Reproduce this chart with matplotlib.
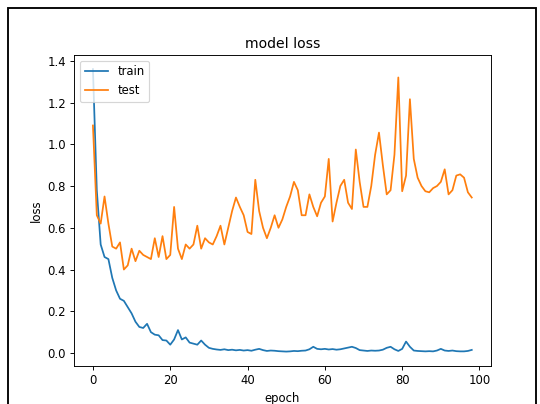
import matplotlib
matplotlib.use('Agg')
import matplotlib.pyplot as plt
from matplotlib.patches import Rectangle

# loss history (epochs 0..98)
train_loss = [1.36, 0.78, 0.52, 0.46, 0.45, 0.36, 0.30, 0.26, 0.25, 0.22,
              0.19, 0.15, 0.125, 0.12, 0.14, 0.10, 0.088, 0.085, 0.062, 0.06,
              0.04, 0.065, 0.11, 0.065, 0.075, 0.05, 0.045, 0.04, 0.06, 0.04,
              0.025, 0.02, 0.017, 0.015, 0.018, 0.014, 0.016, 0.013, 0.015, 0.012,
              0.014, 0.011, 0.016, 0.02, 0.014, 0.01, 0.012, 0.011, 0.009, 0.008,
              0.007, 0.008, 0.01, 0.009, 0.011, 0.012, 0.018, 0.03, 0.02, 0.018,
              0.02, 0.017, 0.019, 0.016, 0.018, 0.022, 0.026, 0.03, 0.024, 0.014,
              0.012, 0.01, 0.012, 0.011, 0.012, 0.016, 0.025, 0.03, 0.018, 0.01,
              0.02, 0.055, 0.03, 0.012, 0.01, 0.009, 0.008, 0.009, 0.008, 0.012,
              0.02, 0.012, 0.01, 0.012, 0.009, 0.008, 0.008, 0.01, 0.015]
test_loss = [1.09, 0.66, 0.62, 0.75, 0.62, 0.51, 0.50, 0.53, 0.40, 0.42,
             0.50, 0.44, 0.49, 0.47, 0.46, 0.45, 0.55, 0.46, 0.56, 0.45,
             0.47, 0.70, 0.50, 0.45, 0.52, 0.50, 0.52, 0.61, 0.50, 0.55,
             0.53, 0.52, 0.56, 0.61, 0.52, 0.60, 0.68, 0.745, 0.70, 0.66,
             0.58, 0.57, 0.83, 0.68, 0.60, 0.55, 0.60, 0.66, 0.60, 0.64,
             0.70, 0.75, 0.82, 0.78, 0.66, 0.66, 0.76, 0.70, 0.655, 0.72,
             0.75, 0.93, 0.63, 0.72, 0.80, 0.83, 0.72, 0.69, 0.975, 0.82,
             0.70, 0.70, 0.80, 0.95, 1.056, 0.90, 0.76, 0.78, 0.95, 1.32,
             0.775, 0.85, 1.216, 0.93, 0.84, 0.80, 0.775, 0.77, 0.79, 0.80,
             0.82, 0.88, 0.76, 0.78, 0.85, 0.856, 0.84, 0.77, 0.745]

W, H = 540, 404
fig = plt.figure(figsize=(W / 84, H / 84), dpi=84)

# black frame of the screenshot (bottom edge falls outside the crop)
fig.patches.append(Rectangle((8 / W, -0.1), (536 - 8) / W, 0.1 + (H - 8) / H,
                             transform=fig.transFigure, fill=False,
                             edgecolor='black', linewidth=1.6))

ax = fig.add_axes([74 / W, (H - 365.7) / H, 416.7 / W, 310.7 / H])
ax.plot(train_loss)
ax.plot(test_loss)
ax.set_title('model loss')
ax.set_ylabel('loss')
ax.set_xlabel('epoch')
ax.legend(['train', 'test'], loc='upper left')

fig.savefig('out.png', dpi=84)
